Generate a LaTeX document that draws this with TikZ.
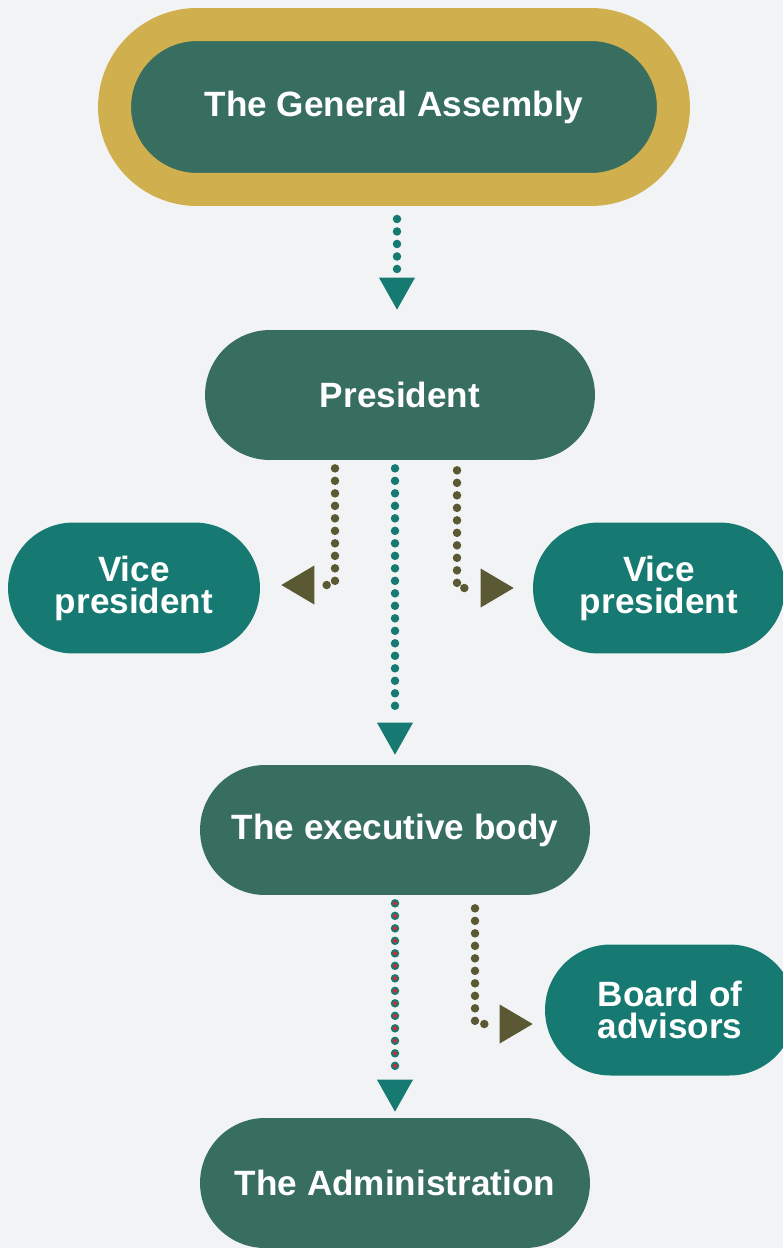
\documentclass[tikz,border=0pt]{standalone}
\usepackage{fontspec}
\setmainfont{Liberation Sans}
\usetikzlibrary{arrows.meta,calc}
\definecolor{bgc}{RGB}{241,243,244}
\definecolor{darkgreen}{RGB}{56,110,95}
\definecolor{tealc}{RGB}{23,122,114}
\definecolor{goldc}{RGB}{208,175,78}
\definecolor{olivec}{RGB}{90,89,52}
\definecolor{redc}{RGB}{215,40,50}
\tikzset{
  box/.style={fill=darkgreen, text=white, font=\fontsize{20pt}{18.2pt}\selectfont\bfseries,
    align=center, inner sep=0pt, minimum height=2.6cm, rounded corners=1.3cm},
  mainbox/.style={box, minimum width=7.8cm},
  sidebox/.style={box, fill=tealc, minimum width=5.04cm, minimum height=2.62cm, rounded corners=1.31cm},
  dots/.style={line width=0.17cm, line cap=round, dash pattern=on 0pt off 0.25cm},
  tealdots/.style={dots, draw=tealc},
  olivedots/.style={dots, draw=olivec},
  reddots/.style={line width=0.08cm, line cap=round, dash pattern=on 0pt off 0.25cm, draw=redc},
  tiponly/.style={line width=0.17cm, line cap=butt, dash pattern=on 0pt off 40cm},
  tealtip/.style={tiponly, draw=tealc, -{Triangle[width=0.72cm,length=0.64cm,line width=0pt]}, tealc},
  olivetip/.style={tiponly, draw=olivec, -{Triangle[width=0.78cm,length=0.66cm,line width=0pt]}, olivec},
}
\begin{document}
\begin{tikzpicture}[x=0.02cm,y=-0.02cm]
\fill[bgc] (0,0) rectangle (783,1248);
\useasboundingbox (0,0) rectangle (783,1248);

\node[box, draw=goldc, line width=0.66cm, minimum width=11.18cm, minimum height=3.3cm,
      rounded corners=1.65cm] (ga) at (394,107) {The General Assembly};
\node[mainbox] (pres) at (400,395) {President};
\node[sidebox] (vpl) at (134,588) {Vice\\president};
\node[sidebox] (vpr) at (659,588) {Vice\\president};
\node[mainbox] (exec) at (395,830) {The executive body};
\node[sidebox, minimum width=5.0cm] (board) at (670,1010) {Board of\\advisors};
\node[mainbox] (admin) at (395,1183) {The Administration};

\coordinate (xa) at (397,0);
\coordinate (xb) at (395,0);
\coordinate (xl) at (335,0);
\coordinate (xr) at (457,0);
\coordinate (xbd) at (475,0);
\coordinate (vple) at ($(vpl.east)+(0,-3)$);
\coordinate (bdw) at ($(board.west)+(0,14)$);

% General Assembly -> President
\draw[tealdots, shorten <=0.26cm, shorten >=1.2cm] (ga.south -| xa) -- (pres.north -| xa);
\draw[tealtip, shorten >=0.4cm] (ga.south -| xa) -- (pres.north -| xa);
% President -> executive body
\draw[tealdots, shorten <=0.16cm, shorten >=0.98cm] (pres.south -| xb) -- (exec.north -| xb);
\draw[tealtip, shorten >=0.2cm] (pres.south -| xb) -- (exec.north -| xb);
% President -> vice presidents
\draw[olivedots, shorten <=0.16cm, shorten >=1.24cm] (pres.south -| xl) |- (vple);
\draw[olivetip, shorten >=0.42cm] (pres.south -| xl) |- (vple);
\draw[olivedots, shorten <=0.2cm, shorten >=1.24cm] (pres.south -| xr) |- (vpr.west);
\draw[olivetip, shorten >=0.38cm] (pres.south -| xr) |- (vpr.west);
% executive body -> Administration
\draw[tealdots, shorten <=0.16cm, shorten >=0.94cm] (exec.south -| xb) -- (admin.north -| xb);
\draw[reddots, shorten <=0.16cm, shorten >=0.94cm] (exec.south -| xb) -- (admin.north -| xb);
\draw[tealtip, shorten >=0.12cm] (exec.south -| xb) -- (admin.north -| xb);
% executive body -> Board of advisors
\draw[olivedots, shorten <=0.26cm, shorten >=1.12cm] (exec.south -| xbd) |- (bdw);
\draw[olivetip, shorten >=0.24cm] (exec.south -| xbd) |- (bdw);
\end{tikzpicture}
\end{document}
